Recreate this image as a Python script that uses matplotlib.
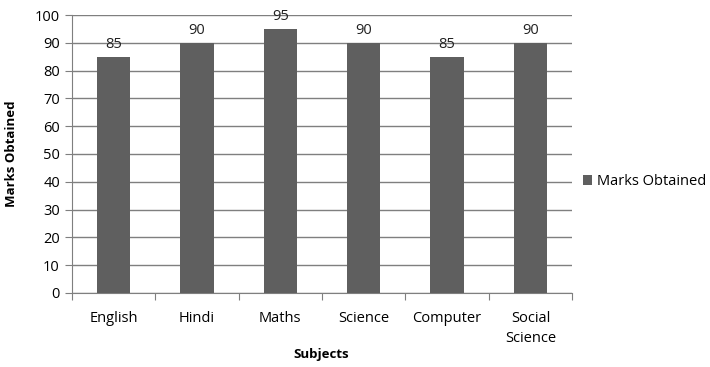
import matplotlib.pyplot as plt
import numpy as np

subjects = ['English', 'Hindi', 'Maths', 'Science', 'Computer', 'Social\nScience']
marks = [85, 90, 95, 90, 85, 90]

plt.rcParams['font.family'] = ['Open Sans', 'DejaVu Sans']

fig = plt.figure(figsize=(7.1, 3.67), dpi=100)
ax = fig.add_axes([0.101, 0.202, 0.705, 0.757])

x = np.arange(len(subjects))
bars = ax.bar(x, marks, width=0.4, color='#5f5f5f', zorder=3, label='Marks Obtained')

# value labels above bars
for xi, v in zip(x, marks):
    ax.text(xi, v + 1.8, str(v), ha='center', va='bottom', fontsize=10.5, color='#222222')

ax.set_xlim(-0.5, len(subjects) - 0.5)
ax.set_ylim(0, 100)
ax.set_yticks(range(0, 101, 10))
ax.grid(axis='y', color='#7f7f7f', linewidth=1, zorder=0)

# ticks at category boundaries on x
ax.set_xticks(np.arange(-0.5, len(subjects), 1))
ax.set_xticklabels([])
ax.set_xticks(x, minor=True)
ax.set_xticklabels(subjects, minor=True, fontsize=10.5, linespacing=1.5)
ax.tick_params(axis='x', which='minor', length=0, pad=13)
ax.tick_params(axis='x', which='major', length=5, color='#7f7f7f')
ax.tick_params(axis='y', length=5, color='#7f7f7f', labelsize=10.5)

for s in ['top', 'right']:
    ax.spines[s].set_visible(False)
for s in ['left', 'bottom']:
    ax.spines[s].set_color('#7f7f7f')

ax.set_ylabel('Marks Obtained', fontsize=9.5, fontweight='bold', labelpad=12)
# x title placed in figure coords so it stays inside the canvas
fig.text(0.453, 0.033, 'Subjects', ha='center', va='center',
         fontsize=9.5, fontweight='bold')

ax.legend(loc='center left', bbox_to_anchor=(0.995, 0.40), frameon=False,
          fontsize=10.5, handlelength=0.6, handleheight=0.6, handletextpad=0.4)

fig.savefig('out.png', dpi=100)
